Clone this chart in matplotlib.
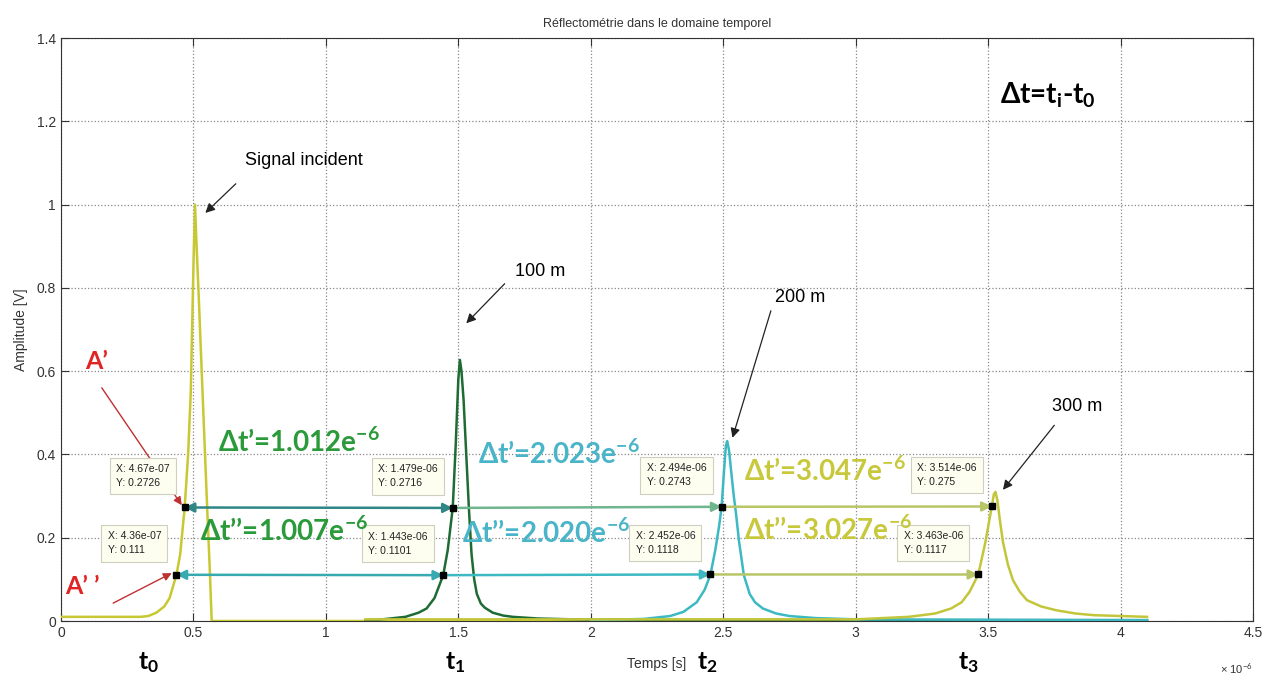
import matplotlib.pyplot as plt
import numpy as np

plt.rcParams['font.family'] = ['Liberation Sans', 'DejaVu Sans']
plt.rcParams['mathtext.fontset'] = 'custom'
plt.rcParams['mathtext.rm'] = 'Lato'
plt.rcParams['mathtext.bf'] = 'Lato:bold'
plt.rcParams['mathtext.it'] = 'Lato:italic'

# time in units of 1e-6 s, amplitude in V
incident_t = [0, 0.3, 0.33, 0.36, 0.39, 0.41, 0.436, 0.45, 0.467, 0.48, 0.49, 0.50, 0.506,
              0.512, 0.52, 0.54, 0.552, 0.562, 0.569, 1.0, 2.0, 3.0, 4.1]
incident_v = [0.01, 0.01, 0.012, 0.02, 0.035, 0.055, 0.111, 0.16, 0.2726, 0.4, 0.55, 0.85, 1.0,
              0.9, 0.78, 0.46, 0.27, 0.12, 0.0, 0.0, 0.0, 0.0, 0.0]

r100_t = [1.15, 1.2, 1.3, 1.35, 1.38, 1.41, 1.443, 1.46, 1.479, 1.49, 1.50, 1.506, 1.512, 1.52,
          1.53, 1.54, 1.55, 1.56, 1.57, 1.585, 1.60, 1.63, 1.67, 1.706, 1.80, 2.0, 3.0, 4.1]
r100_v = [0.002, 0.003, 0.01, 0.02, 0.03, 0.055, 0.1101, 0.17, 0.2716, 0.42, 0.58, 0.627, 0.6, 0.53,
          0.4, 0.27, 0.16, 0.1, 0.065, 0.042, 0.032, 0.02, 0.013, 0.01, 0.006, 0.003, 0.002, 0.002]

r200_t = [2.0, 2.2, 2.3, 2.35, 2.40, 2.43, 2.452, 2.47, 2.485, 2.494, 2.503, 2.51, 2.515, 2.522,
          2.53, 2.54, 2.548, 2.56, 2.578, 2.60, 2.62, 2.65, 2.70, 2.75, 2.85, 3.0, 4.1]
r200_v = [0.002, 0.005, 0.012, 0.022, 0.045, 0.075, 0.1118, 0.17, 0.23, 0.2743, 0.36, 0.42, 0.432, 0.41,
          0.36, 0.3, 0.26, 0.19, 0.11, 0.065, 0.045, 0.03, 0.018, 0.012, 0.007, 0.004, 0.002]

r300_t = [1.15, 2.0, 3.0, 3.2, 3.3, 3.36, 3.40, 3.43, 3.463, 3.49, 3.514, 3.522, 3.528, 3.535,
          3.545, 3.556, 3.575, 3.594, 3.62, 3.647, 3.70, 3.756, 3.83, 3.9, 4.0, 4.1]
r300_v = [0.004, 0.004, 0.004, 0.01, 0.018, 0.03, 0.045, 0.07, 0.1117, 0.19, 0.275, 0.305, 0.31, 0.29,
          0.24, 0.19, 0.135, 0.098, 0.07, 0.05, 0.035, 0.026, 0.018, 0.014, 0.012, 0.01]

# data cursor points (seconds, volts)
tip_x = [4.67e-07, 4.36e-07, 1.479e-06, 1.443e-06, 2.494e-06, 2.452e-06, 3.514e-06, 3.463e-06]
tip_y = [0.2726, 0.111, 0.2716, 0.1101, 0.2743, 0.1118, 0.275, 0.1117]

dt_labels = ["Δt’=1.012e$^{\\mathbf{-6}}$", "Δt’’=1.007e$^{\\mathbf{-6}}$",
             "Δt’=2.023e$^{\\mathbf{-6}}$", "Δt’’=2.020e$^{\\mathbf{-6}}$",
             "Δt’=3.047e$^{\\mathbf{-6}}$", "Δt’’=3.027e$^{\\mathbf{-6}}$"]

c_inc = "#c8c832"
c_100 = "#1f6b34"
c_200 = "#3cb9c2"
c_300 = "#c3c63a"

fig = plt.figure(figsize=(12.65, 6.79), dpi=100)
ax = fig.add_axes([0.0482, 0.0854, 0.9423, 0.8586])

ax.plot(incident_t, incident_v, color=c_inc, lw=1.8, zorder=3)
ax.plot(r100_t, r100_v, color=c_100, lw=1.8, zorder=3)
ax.plot(r200_t, r200_v, color=c_200, lw=1.8, zorder=3)
ax.plot(r300_t, r300_v, color=c_300, lw=1.8, zorder=3)

ax.set_xlim(0, 4.5)
ax.set_ylim(0, 1.4)
ax.set_xticks(np.arange(0, 4.51, 0.5))
ax.set_xticklabels(["0", "0.5", "1", "1.5", "2", "2.5", "3", "3.5", "4", "4.5"])
ax.set_yticks(np.arange(0, 1.41, 0.2))
ax.set_yticklabels(["0", "0.2", "0.4", "0.6", "0.8", "1", "1.2", "1.4"])
ax.tick_params(direction="in", top=True, right=True, length=6, labelsize=10, colors="#333333")
ax.grid(True, linestyle=":", color="#888888", lw=0.9)
for s in ax.spines.values():
    s.set_color("#333333")
ax.set_title("Réflectométrie dans le domaine temporel", fontsize=9, color="#333333", pad=8)
ax.set_xlabel("Temps [s]", fontsize=10, color="#333333", labelpad=12)
ax.set_ylabel("Amplitude [V]", fontsize=10, color="#333333", labelpad=6)
ax.text(1.0, -0.07, "× 10$^{-6}$", transform=ax.transAxes, ha="right", va="top",
        fontsize=8, color="#333333", family=["Liberation Sans", "DejaVu Sans"])

# horizontal time-difference arrows
tx = [v * 1e6 for v in tip_x]
arrows = [(0, 2, "#2e8686", "<|-|>"), (1, 3, "#36aab0", "<|-|>"),
          (2, 4, "#6fb58d", "-|>"), (3, 5, "#3cb9c2", "-|>"),
          (4, 6, "#b9c667", "-|>"), (5, 7, "#b9c667", "-|>")]
for a, b, col, sty in arrows:
    ax.annotate("", xy=(tx[b], tip_y[b]), xytext=(tx[a], tip_y[a]),
                arrowprops=dict(arrowstyle=sty, color=col, lw=1.8, mutation_scale=14,
                                shrinkA=0, shrinkB=0), zorder=4)

# data cursors
ax.plot(tx, tip_y, "s", color="black", ms=5, zorder=6)
for x, y, xs in zip(tx, tip_y, tip_x):
    ax.annotate("X: %.4g\nY: %.4g" % (xs, y), (x, y), xytext=(-11, 14), textcoords="offset points",
                ha="right", va="bottom", multialignment="left", fontsize=7.5, color="#222222",
                linespacing=1.5,
                bbox=dict(boxstyle="square,pad=0.6", fc="#fdfdf0", ec="#cfcfbf", lw=0.8), zorder=5)

# delta-t labels
big = dict(fontsize=20, fontweight="bold", family=["Lato", "DejaVu Sans"], va="center", zorder=7)
ax.text(0.593, 0.43, dt_labels[0], color="#2a9a3a", **big)
ax.text(0.525, 0.214, dt_labels[1], color="#2a9a3a", **big)
ax.text(1.574, 0.399, dt_labels[2], color="#4ab4c8", **big)
ax.text(1.514, 0.211, dt_labels[3], color="#4ab4c8", **big)
ax.text(2.58, 0.359, dt_labels[4], color="#c8c83c", **big)
ax.text(2.58, 0.218, dt_labels[5], color="#c8c83c", **big)

ax.text(3.545, 1.263, "Δt=t$_\\mathbf{i}$-t$_\\mathbf{0}$", color="black", **big)

# time markers below the axis
for x, lab in zip([0.29, 1.45, 2.40, 3.386], ["t$_\\mathbf{0}$", "t$_\\mathbf{1}$", "t$_\\mathbf{2}$", "t$_\\mathbf{3}$"]):
    ax.text(x, -0.1, lab, color="black", fontsize=18, fontweight="bold",
            family=["Lato", "DejaVu Sans"], ha="left", va="center", clip_on=False)

# peak labels
arr = dict(arrowstyle="-|>", color="#222222", lw=0.9, mutation_scale=14, shrinkA=0, shrinkB=0)
ax.text(0.695, 1.107, "Signal incident", fontsize=13, ha="left", va="center")
ax.annotate("", xy=(0.545, 0.98), xytext=(0.66, 1.05), arrowprops=arr)
ax.text(1.714, 0.84, "100 m", fontsize=13, ha="left", va="center")
ax.annotate("", xy=(1.53, 0.715), xytext=(1.675, 0.81), arrowprops=arr)
ax.text(2.695, 0.776, "200 m", fontsize=13, ha="left", va="center")
ax.annotate("", xy=(2.535, 0.44), xytext=(2.68, 0.745), arrowprops=arr)
ax.text(3.74, 0.514, "300 m", fontsize=13, ha="left", va="center")
ax.annotate("", xy=(3.556, 0.315), xytext=(3.75, 0.47), arrowprops=arr)

# A' / A'' markers
red = "#e02424"
ax.text(0.09, 0.622, "A’", color=red, fontsize=18, fontweight="bold", family=["Lato", "DejaVu Sans"], va="center")
ax.annotate("", xy=(0.456, 0.278), xytext=(0.154, 0.56),
            arrowprops=dict(arrowstyle="-|>", color="#c03030", lw=1.0, mutation_scale=12, shrinkA=0, shrinkB=0))
ax.text(0.015, 0.082, "A’ ’", color=red, fontsize=18, fontweight="bold", family=["Lato", "DejaVu Sans"], va="center")
ax.annotate("", xy=(0.418, 0.115), xytext=(0.197, 0.043),
            arrowprops=dict(arrowstyle="-|>", color="#c03030", lw=1.0, mutation_scale=12, shrinkA=0, shrinkB=0))

fig.savefig("out.png", dpi=100)
